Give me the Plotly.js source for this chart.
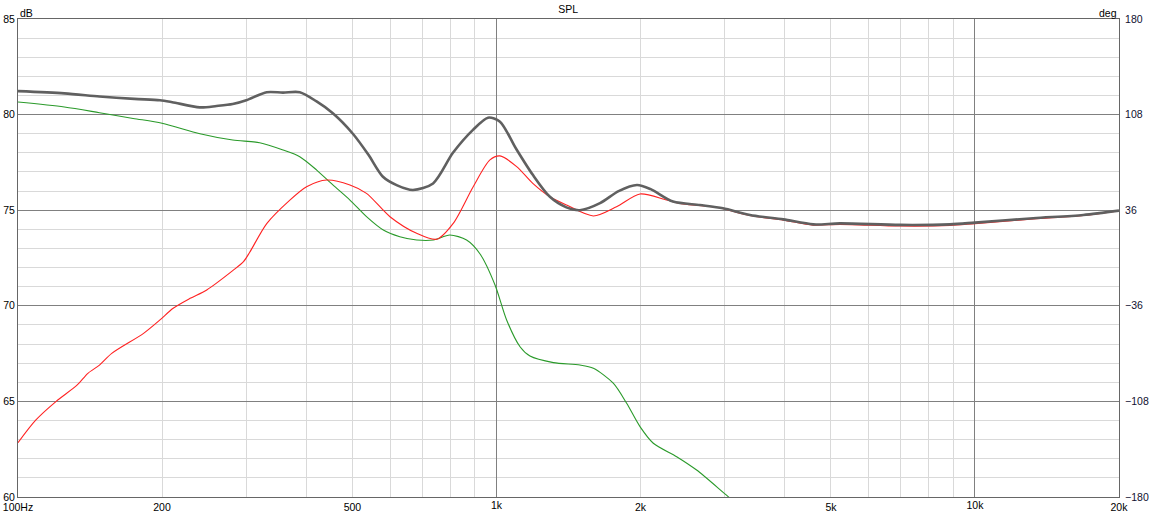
<!DOCTYPE html>
<html>
<head>
<meta charset="utf-8">
<script src="https://cdn.plot.ly/plotly-3.0.1.min.js"></script>
<style>
html,body{margin:0;padding:0;background:#fff;}
#chart{width:1149px;height:521px;}
</style>
</head>
<body>
<div id="chart"></div>
<script>
// ---- data ----
const grayFreq = [100,125,148,175,198,210,240,260,281,300,331,358,388,420,455,501,540,579,620,669,737,811,893,960,1017,1100,1191,1293,1400,1494,1646,1800,1966,2100,2338,2662,2974,3387,3977,4592,5223,6970,8866,10000,13240,16840,20000];
const grayDb   = [81.23,81.11,80.95,80.82,80.75,80.65,80.38,80.45,80.55,80.75,81.17,81.15,81.17,80.7,80.07,79.0,77.9,76.75,76.3,76.06,76.4,78.0,79.2,79.84,79.63,78.2,76.85,75.7,75.15,75.0,75.37,76.0,76.32,76.1,75.45,75.27,75.1,74.75,74.52,74.26,74.31,74.23,74.26,74.35,74.58,74.75,74.98];

const redFreq = [100,109,120,133,140,148,157,183,198,211,229,248,281,296,305,331,370,401,442,494,535,599,681,750,812,894,969,1017,1102,1191,1293,1401,1594,1782,1995,2268,2457,2884,3387,3977,4592,5223,6970,8866,10000,13240,16840,20000];
const redDb   = [62.84,64.03,64.99,65.86,66.47,66.9,67.51,68.56,69.26,69.87,70.39,70.83,71.84,72.31,72.8,74.3,75.53,76.23,76.58,76.32,75.88,74.66,73.79,73.48,74.31,76.23,77.63,77.84,77.28,76.4,75.7,75.27,74.7,75.18,75.85,75.53,75.32,75.15,74.72,74.48,74.22,74.26,74.17,74.2,74.3,74.54,74.72,74.96];

const greenFreq = [100,125,148,174,200,240,281,320,358,388,421,455,494,535,580,628,681,738,799,866,924,993,1050,1120,1175,1315,1494,1594,1754,1871,1995,2127,2380,2620,3050,3200];
const greenDb   = [80.66,80.4,80.1,79.8,79.55,79.0,78.67,78.53,78.15,77.8,77.1,76.32,75.53,74.66,73.96,73.61,73.44,73.44,73.7,73.44,72.71,71.09,69.26,67.86,67.37,67.03,66.9,66.73,65.95,64.9,63.68,62.81,62.11,61.41,60.02,59.6];

const xMinorGrid = [100,200,300,400,500,600,700,800,900,2000,3000,4000,5000,6000,7000,8000,9000,20000];
const xLabels = {100:'100Hz',200:'200',500:'500',1000:'1k',2000:'2k',5000:'5k',10000:'10k',20000:'20k'};
const xMajorGrid = [1000,10000];
const dbTickVals = [60,65,70,75,80,85];
const degTickVals = [-180,-108,-36,36,108,180];

const font = 'Liberation Sans, Arial, sans-serif';
const fs = 10.5;
const line = (f,d,color,w)=>({x:f,y:d,type:'scatter',mode:'lines',hoverinfo:'skip',
  line:{color:color,width:w,shape:'spline',smoothing:0.8},showlegend:false});

const traces = [
  line(greenFreq, greenDb, '#2a9a2a', 1.1),
  line(redFreq, redDb, '#ff2222', 1.1),
  line(grayFreq, grayDb, '#606060', 2.6),
  {x:[], y:[], type:'scatter', mode:'lines', yaxis:'y2', showlegend:false, hoverinfo:'skip'},
  {x:[], y:[], type:'scatter', mode:'lines', xaxis:'x2', showlegend:false, hoverinfo:'skip'}
];

const xRange = [2, Math.log10(20000)];
const tf = {family:font,size:fs,color:'#000'};

const layout = {
  width:1149,height:521,
  margin:{l:18,r:30,t:19,b:24},
  paper_bgcolor:'#fff',plot_bgcolor:'#fff',
  font:{family:font,size:fs,color:'#000'},
  title:{text:'SPL',x:0.4946,xanchor:'center',y:0.982,yanchor:'middle',font:tf},
  xaxis:{type:'log',range:xRange,tickmode:'array',tickvals:xMinorGrid,
    ticktext:xMinorGrid.map(v=>xLabels[v]||''),
    showgrid:true,gridcolor:'#d9d9d9',gridwidth:1,zeroline:false,showline:true,mirror:true,linecolor:'#666',linewidth:1,
    ticks:'',ticklen:0,tickfont:tf},
  xaxis2:{type:'log',overlaying:'x',side:'bottom',anchor:'y',range:xRange,tickmode:'array',tickvals:xMajorGrid,
    ticktext:xMajorGrid.map(v=>xLabels[v]||''),
    showgrid:true,gridcolor:'#808080',gridwidth:1,zeroline:false,showline:false,
    ticks:'',ticklen:0,tickfont:tf},
  yaxis:{range:[60,85],tickmode:'array',tickvals:dbTickVals,showgrid:true,gridcolor:'#808080',gridwidth:1,
    zeroline:false,showline:true,mirror:true,linecolor:'#666',linewidth:1,ticks:'',
    tickfont:tf,
    minor:{dtick:1,showgrid:true,gridcolor:'#d9d9d9',gridwidth:1,ticks:''}},
  yaxis2:{overlaying:'y',side:'right',anchor:'x',range:[-180,180],tickmode:'array',tickvals:degTickVals,
    showgrid:false,zeroline:false,showline:false,ticks:'outside',ticklen:3,tickcolor:'rgba(0,0,0,0)',
    tickfont:{family:font,size:fs,color:'#101030'}},
  annotations:[
    {text:'dB',xref:'paper',yref:'paper',x:0,y:1,xanchor:'left',yanchor:'bottom',showarrow:false,yshift:-2,font:tf},
    {text:'deg',xref:'paper',yref:'paper',x:1,y:1,xanchor:'right',yanchor:'bottom',showarrow:false,yshift:-2,font:tf}
  ]
};

Plotly.newPlot('chart', traces, layout, {displayModeBar:false,staticPlot:true});
</script>
</body>
</html>
